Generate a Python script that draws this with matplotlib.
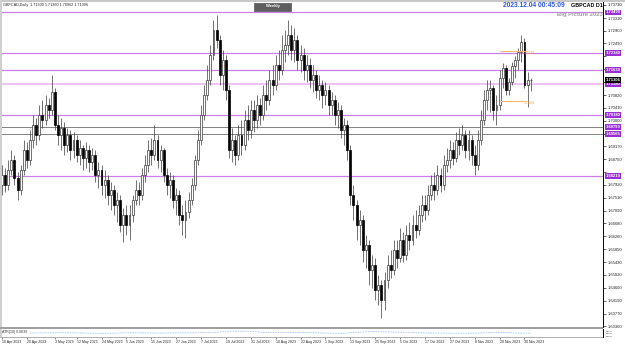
import numpy as np
import pandas as pd
import matplotlib
matplotlib.use("Agg")
import matplotlib.pyplot as plt
from matplotlib.patches import Rectangle
from matplotlib.transforms import blended_transform_factory as btf

plt.rcParams['font.family'] = ['Liberation Sans', 'DejaVu Sans']

# ---------------- data ----------------
dates = pd.bdate_range('2023-04-10', '2023-12-04')

opens = [
    1.6792, 1.6824, 1.6792, 1.6840, 1.6873, 1.6814, 1.6776, 1.6840, 1.6905,
    1.6873, 1.6937, 1.6986, 1.6953, 1.7018, 1.7002, 1.7050, 1.7034, 1.7092,
    1.6986, 1.6953, 1.6976, 1.6921, 1.6953, 1.6905, 1.6937, 1.6889, 1.6911, 1.6879, 1.6905, 1.6866, 1.6889,
    1.6824, 1.6840, 1.6792, 1.6808, 1.6760, 1.6776, 1.6727, 1.6743, 1.6663, 1.6695, 1.6663,
    1.6695, 1.6743, 1.6776, 1.6760, 1.6824, 1.6856, 1.6905, 1.6889,
    1.6937, 1.6873, 1.6905, 1.6824, 1.6792, 1.6808, 1.6743, 1.6760, 1.6695, 1.6679,
    1.6705, 1.6743, 1.6792, 1.6873, 1.6937, 1.7018, 1.7082, 1.7131, 1.7211, 1.7292, 1.7260, 1.7147,
    1.7195, 1.7099, 1.6905, 1.6937, 1.6889, 1.6953, 1.6921, 1.7002, 1.6969,
    1.7034, 1.7002, 1.7050, 1.7018, 1.7082, 1.7066, 1.7131, 1.7115, 1.7179, 1.7163, 1.7228, 1.7244, 1.7276, 1.7228, 1.7260,
    1.7195, 1.7211, 1.7163, 1.7179, 1.7131, 1.7147, 1.7099, 1.7115, 1.7082, 1.7099, 1.7050, 1.7066, 1.7018, 1.7034, 1.6969,
    1.6986, 1.6905, 1.6760, 1.6727, 1.6663, 1.6679, 1.6582, 1.6598, 1.6517, 1.6534, 1.6453, 1.6469, 1.6421,
    1.6485, 1.6534, 1.6517, 1.6582, 1.6556, 1.6614, 1.6566, 1.6630, 1.6614, 1.6663, 1.6647, 1.6695,
    1.6727, 1.6711, 1.6760, 1.6792, 1.6776, 1.6824, 1.6792, 1.6856, 1.6873, 1.6905, 1.6879, 1.6937, 1.6921, 1.6953, 1.6905, 1.6937, 1.6889,
    1.6856, 1.6937, 1.7002, 1.7066, 1.7099, 1.7105, 1.7034, 1.7050, 1.7137, 1.7170, 1.7099, 1.7124, 1.7176, 1.7195, 1.7221, 1.7253, 1.7115, 1.71300,
]
highs = [
    1.6856, 1.6847, 1.6873, 1.6905, 1.6889, 1.6834, 1.6856, 1.6937, 1.6931,
    1.6969, 1.7018, 1.7008, 1.7050, 1.7066, 1.7082, 1.7073, 1.7147, 1.7105,
    1.7018, 1.7008, 1.6995, 1.6976, 1.6969, 1.6963, 1.6953, 1.6937, 1.6921, 1.6931, 1.6921, 1.6911, 1.6905,
    1.6866, 1.6856, 1.6840, 1.6824, 1.6802, 1.6792, 1.6769, 1.6760, 1.6718, 1.6727, 1.6727,
    1.6760, 1.6808, 1.6802, 1.6847, 1.6889, 1.6937, 1.6944, 1.6986,
    1.6953, 1.6921, 1.6911, 1.6847, 1.6834, 1.6824, 1.6782, 1.6776, 1.6727, 1.6743,
    1.6769, 1.6814, 1.6889, 1.6969, 1.7050, 1.7115, 1.7179, 1.7244, 1.7324, 1.7341, 1.7276, 1.7228,
    1.7211, 1.7115, 1.6976, 1.6953, 1.6986, 1.7002, 1.7034, 1.7050, 1.7066,
    1.7066, 1.7082, 1.7073, 1.7115, 1.7131, 1.7163, 1.7179, 1.7211, 1.7228, 1.7276, 1.7292, 1.7324, 1.7308, 1.7299, 1.7276,
    1.7244, 1.7234, 1.7211, 1.7202, 1.7179, 1.7163, 1.7147, 1.7131, 1.7124, 1.7115, 1.7092, 1.7082, 1.7060, 1.7050, 1.7008,
    1.7002, 1.6921, 1.6792, 1.6743, 1.6711, 1.6695, 1.6630, 1.6614, 1.6566, 1.6556, 1.6501, 1.6485, 1.6511,
    1.6566, 1.6582, 1.6614, 1.6614, 1.6653, 1.6640, 1.6663, 1.6672, 1.6695, 1.6711, 1.6727, 1.6760,
    1.6760, 1.6792, 1.6824, 1.6834, 1.6856, 1.6847, 1.6889, 1.6911, 1.6937, 1.6931, 1.6963, 1.6976, 1.6986, 1.6969, 1.6969, 1.6953, 1.6921,
    1.6969, 1.7034, 1.7099, 1.7131, 1.7131, 1.7115, 1.7082, 1.7163, 1.7186, 1.7179, 1.7137, 1.7189, 1.7208, 1.7234, 1.7276, 1.7266, 1.7157, 1.71360,
]
lows = [
    1.6760, 1.6769, 1.6776, 1.6824, 1.6792, 1.6743, 1.6760, 1.6824, 1.6847,
    1.6856, 1.6911, 1.6921, 1.6937, 1.6976, 1.6986, 1.7008, 1.7018, 1.6969,
    1.6921, 1.6905, 1.6889, 1.6898, 1.6873, 1.6879, 1.6866, 1.6856, 1.6840, 1.6847, 1.6834, 1.6840, 1.6802,
    1.6782, 1.6760, 1.6750, 1.6727, 1.6711, 1.6695, 1.6672, 1.6640, 1.6608, 1.6630, 1.6614,
    1.6672, 1.6727, 1.6727, 1.6743, 1.6802, 1.6834, 1.6856, 1.6873,
    1.6847, 1.6834, 1.6802, 1.6760, 1.6750, 1.6718, 1.6695, 1.6663, 1.6630, 1.6621,
    1.6685, 1.6727, 1.6776, 1.6856, 1.6921, 1.7002, 1.7066, 1.7115, 1.7195, 1.7234, 1.7115, 1.7099,
    1.7066, 1.6879, 1.6866, 1.6856, 1.6873, 1.6889, 1.6905, 1.6937, 1.6944,
    1.6963, 1.6976, 1.6986, 1.7002, 1.7034, 1.7050, 1.7082, 1.7099, 1.7131, 1.7147, 1.7189, 1.7211, 1.7195, 1.7189, 1.7163,
    1.7157, 1.7131, 1.7124, 1.7105, 1.7092, 1.7073, 1.7066, 1.7040, 1.7050, 1.7018, 1.7018, 1.6986, 1.6976, 1.6944, 1.6921,
    1.6873, 1.6727, 1.6679, 1.6614, 1.6598, 1.6543, 1.6524, 1.6469, 1.6459, 1.6421, 1.6404, 1.6362, 1.6388,
    1.6459, 1.6492, 1.6501, 1.6524, 1.6543, 1.6543, 1.6550, 1.6582, 1.6598, 1.6621, 1.6630, 1.6672,
    1.6679, 1.6695, 1.6743, 1.6743, 1.6760, 1.6769, 1.6776, 1.6834, 1.6847, 1.6856, 1.6866, 1.6889, 1.6905, 1.6879, 1.6873, 1.6856, 1.6824,
    1.6840, 1.6921, 1.6986, 1.7034, 1.7027, 1.7002, 1.6986, 1.7034, 1.7105, 1.7082, 1.7082, 1.7115, 1.7137, 1.7163, 1.7189, 1.7105, 1.7044, 1.70962,
]
closes = [
    1.6824, 1.6792, 1.6840, 1.6873, 1.6814, 1.6776, 1.6840, 1.6905, 1.6873,
    1.6937, 1.6986, 1.6953, 1.7018, 1.7002, 1.7050, 1.7034, 1.7092, 1.6986,
    1.6953, 1.6976, 1.6921, 1.6953, 1.6905, 1.6937, 1.6889, 1.6911, 1.6879, 1.6905, 1.6866, 1.6889, 1.6824,
    1.6840, 1.6792, 1.6808, 1.6760, 1.6776, 1.6727, 1.6743, 1.6663, 1.6695, 1.6663, 1.6695,
    1.6743, 1.6776, 1.6760, 1.6824, 1.6856, 1.6905, 1.6889, 1.6937,
    1.6873, 1.6905, 1.6824, 1.6792, 1.6808, 1.6743, 1.6760, 1.6695, 1.6679, 1.6705,
    1.6743, 1.6792, 1.6873, 1.6937, 1.7018, 1.7082, 1.7131, 1.7211, 1.7292, 1.7260, 1.7147, 1.7195,
    1.7099, 1.6905, 1.6937, 1.6889, 1.6953, 1.6921, 1.7002, 1.6969, 1.7034,
    1.7002, 1.7050, 1.7018, 1.7082, 1.7066, 1.7131, 1.7115, 1.7179, 1.7163, 1.7228, 1.7244, 1.7276, 1.7228, 1.7260, 1.7195,
    1.7211, 1.7163, 1.7179, 1.7131, 1.7147, 1.7099, 1.7115, 1.7082, 1.7099, 1.7050, 1.7066, 1.7018, 1.7034, 1.6969, 1.6986,
    1.6905, 1.6760, 1.6727, 1.6663, 1.6679, 1.6582, 1.6598, 1.6517, 1.6534, 1.6453, 1.6469, 1.6421, 1.6485,
    1.6534, 1.6517, 1.6582, 1.6556, 1.6614, 1.6566, 1.6630, 1.6614, 1.6663, 1.6647, 1.6695, 1.6727,
    1.6711, 1.6760, 1.6792, 1.6776, 1.6824, 1.6792, 1.6856, 1.6873, 1.6905, 1.6879, 1.6937, 1.6921, 1.6953, 1.6905, 1.6937, 1.6889, 1.6856,
    1.6937, 1.7002, 1.7066, 1.7099, 1.7105, 1.7034, 1.7050, 1.7137, 1.7170, 1.7099, 1.7124, 1.7176, 1.7195, 1.7221, 1.7253, 1.7115, 1.7130, 1.71306,
]

price_ticks = [1.73730, 1.73310, 1.72900, 1.72490, 1.72070, 1.71650, 1.71240, 1.70820,
               1.70410, 1.70000, 1.69580, 1.69170, 1.68750, 1.68340, 1.67920, 1.67510,
               1.67090, 1.66680, 1.66260, 1.65850, 1.65430, 1.65020, 1.64600, 1.64190,
               1.63770, 1.63360]

violet_levels = [1.73490, 1.72180, 1.71630, 1.70180, 1.68210]
pink_level = 1.71180
dark_levels = [1.69790, 1.69565]
current_price = 1.71306

orange_levels = [1.7223, 1.7064]
orange_labels = ['1.7223', '1.7064']
orange_span = ['2023-11-21', '2023-12-01']

date_labels = ['10 Apr 2023', '20 Apr 2023', '3 May 2023', '12 May 2023', '24 May 2023',
               '5 Jun 2023', '15 Jun 2023', '27 Jun 2023', '7 Jul 2023', '19 Jul 2023',
               '31 Jul 2023', '10 Aug 2023', '22 Aug 2023', '1 Sep 2023', '13 Sep 2023',
               '25 Sep 2023', '5 Oct 2023', '17 Oct 2023', '27 Oct 2023', '8 Nov 2023',
               '20 Nov 2023', '30 Nov 2023']

header_text = 'GBPCAD,Daily  1.71300 1.71360 1.70962 1.71306'
atr_text = 'ATR(10) 0.0039'

# ---------------- layout ----------------
W, H = 625, 346
fig = plt.figure(figsize=(W / 100, H / 100), dpi=100)
fig.patch.set_facecolor('white')

def fx(px):
    return px / W

def fy(py):
    return 1 - py / H

axis_px = 603
main_top, main_bot = 2, 327
sub_top, sub_bot = 329, 337
bar_px, first_px = 3.11, 2.0
px_price = 0.0003228
ref_price, ref_px = 1.73730, 5

ax = fig.add_axes([0, fy(main_bot), fx(axis_px), (main_bot - main_top) / H])
ax.set_facecolor('white')
ax.set_ylim(ref_price - (main_bot - ref_px) * px_price, ref_price + (ref_px - main_top) * px_price)
xlim = (-first_px / bar_px, (axis_px - first_px) / bar_px)
ax.set_xlim(*xlim)

o = np.array(opens); h = np.array(highs); l = np.array(lows); c = np.array(closes)
x = np.arange(len(o))
bull = c >= o

# horizontal levels (behind candles)
for p in violet_levels:
    ax.axhline(p, color='#C97EEA', lw=0.9, zorder=1)
ax.axhline(pink_level, color='#EDC2F2', lw=1.4, zorder=1)
for p in dark_levels:
    ax.axhline(p, color='#6E6E6E', lw=0.6, zorder=1)

# candles
ax.vlines(x, l, h, color='#3A3A3A', lw=0.5, zorder=2)
body = np.abs(c - o)
body = np.where(body < 2e-5, 2e-5, body)
bottom = np.minimum(o, c)
ax.bar(x[bull], body[bull], bottom=bottom[bull], width=0.62, facecolor='white',
       edgecolor='#3A3A3A', lw=0.5, zorder=3)
ax.bar(x[~bull], body[~bull], bottom=bottom[~bull], width=0.62, facecolor='black',
       edgecolor='black', lw=0.5, zorder=3)

# orange markers
i0 = dates.get_loc(pd.Timestamp(orange_span[0]))
i1 = dates.get_loc(pd.Timestamp(orange_span[1]))
for p, lab in zip(orange_levels, orange_labels):
    ax.hlines(p, i0 - 1, i1 - 0.5, color='#FFB86B', lw=0.8, zorder=4)
    ax.text(i1 - 1.2, p - 0.0006, lab, color='#F0A050', fontsize=2.6, ha='left', va='center', zorder=5)

# axes styling
label_levels = violet_levels + dark_levels + [pink_level, current_price]
min_gap = 5 * px_price  # tick labels hidden behind level labels
ax.set_xticks([])
ax.yaxis.tick_right()
ax.set_yticks(price_ticks)
ax.set_yticklabels(['' if min(abs(t - q) for q in label_levels) < min_gap else f'{t:.5f}'
                    for t in price_ticks])
ax.tick_params(axis='y', labelsize=3.0, length=2, width=0.5, pad=1.2, colors='#222222')
for s in ['top', 'left', 'bottom']:
    ax.spines[s].set_visible(False)
ax.spines['right'].set_linewidth(0.7)
ax.spines['right'].set_color('black')

tr = btf(ax.transAxes, ax.transData)
def level_label(p, fc):
    ax.text(1.004, p, f'{p:.5f}', transform=tr, ha='left', va='center', fontsize=3.0,
            color='white', fontweight='bold', clip_on=False, zorder=10,
            bbox=dict(boxstyle='square,pad=0.18', fc=fc, ec='none'))

for p in violet_levels:
    level_label(p, '#9A2FD6')
for p in dark_levels:
    level_label(p, '#9A2FD6')
level_label(pink_level, '#9A2FD6')
level_label(current_price, '#000000')

# ---------------- ATR subwindow ----------------
ax2 = fig.add_axes([0, fy(sub_bot), fx(axis_px), (sub_bot - sub_top) / H])
ax2.set_xlim(*xlim)
prev_c = np.concatenate([[c[0]], c[:-1]])
true_range = np.maximum(h - l, np.maximum(np.abs(h - prev_c), np.abs(l - prev_c)))
atr = pd.Series(true_range).rolling(10).mean().values
ax2.plot(x, atr, color='#8DB3EA', lw=0.6, ls=(0, (1, 1)))
ax2.set_ylim(0, np.nanmax(atr) * 1.35)
ax2.set_yticks([])
ax2.text(0.004, 0.62, atr_text, transform=ax2.transAxes, fontsize=2.5, color='#333333',
         ha='left', va='center')
for s in ['top', 'left', 'bottom']:
    ax2.spines[s].set_visible(False)
ax2.spines['right'].set_linewidth(0.7)
tick_pos = [dates.get_loc(pd.Timestamp(pd.to_datetime(d, format='%d %b %Y'))) for d in date_labels]
ax2.set_xticks(tick_pos)
ax2.set_xticklabels(date_labels, ha='left')
ax2.tick_params(axis='x', labelsize=2.5, length=1.5, width=0.4, pad=1.0, colors='#222222')
for k, t in enumerate(['0.0120', '0.0039', '0.0000']):
    fig.text(fx(606), fy(331 + k * 2.6), t, fontsize=1.6, color='#333333', va='center')

# ---------------- frame / decorations ----------------
fig.patches.append(Rectangle((0, fy(2)), 1, 2 / H, transform=fig.transFigure,
                             fc='#C8C8C8', ec='none', zorder=0))
fig.patches.append(Rectangle((0, fy(sub_bot)), fx(2), (sub_bot) / H, transform=fig.transFigure,
                             fc='#D0D0D0', ec='none', zorder=5))
fig.patches.append(Rectangle((0, fy(sub_top)), fx(axis_px), 2 / H, transform=fig.transFigure,
                             fc='#A0A0A0', ec='none', zorder=5))
fig.patches.append(Rectangle((0, fy(sub_bot + 0.5)), fx(axis_px), 1 / H, transform=fig.transFigure,
                             fc='#B0B0B0', ec='none', zorder=5))

# header texts
fig.text(fx(3), fy(5), header_text, fontsize=2.7, color='#222222', ha='left', va='center', zorder=20)
fig.patches.append(Rectangle((fx(254), fy(10.5)), fx(37), 8 / H, transform=fig.transFigure,
                             fc='#5E5E5E', ec='#3C3C3C', lw=0.4, zorder=19))
fig.text(fx(272.5), fy(6.5), 'Weekly', fontsize=3.0, color='white', fontweight='bold',
         ha='center', va='center', zorder=20)
fig.text(fx(503), fy(5.5), '2023.12.04 00:45:09', fontsize=4.8, color='#2A55E0',
         fontweight='bold', ha='left', va='center', zorder=20)
fig.text(fx(603), fy(5.5), 'GBPCAD D1', fontsize=3.9, color='black', fontweight='bold',
         ha='right', va='center', zorder=20)
fig.text(fx(603), fy(14.5), 'Big Picture 2023', fontsize=4.2, color='#A0A0A0', fontweight='bold',
         ha='right', va='center', zorder=20)

fig.savefig('out.png', dpi=100, facecolor='white')
